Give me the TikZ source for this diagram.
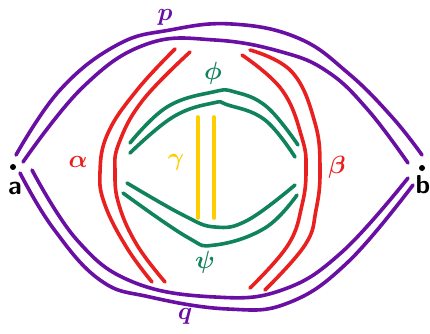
\documentclass[tikz,border=0pt]{standalone}
\usepackage{tikz}
\usepackage{bm}
\usetikzlibrary{calc}
\definecolor{grape}{HTML}{6A0FA3}
\definecolor{tomato}{HTML}{E8201F}
\definecolor{pine}{HTML}{10835A}
\definecolor{gold}{HTML}{FFCC00}
\tikzset{
  stroke/.style={line width=3.6pt,line cap=round,line join=round},
  lab/.style={font=\fontsize{26}{26}\selectfont,inner sep=0pt},
  pt/.style={circle,fill=black,minimum size=6pt,inner sep=0pt},
}
\begin{document}
\begin{tikzpicture}[x=1pt,y=-1pt,
  pp/.style={stroke,draw=grape},
  rr/.style={stroke,draw=tomato},
  gg/.style={stroke,draw=pine},
  yy/.style={stroke,draw=gold}]
  \useasboundingbox[fill=white] (0,0) rectangle (430,333);
  % end points
  \node[pt] (A) at (13,167) {};
  \node[pt] (B) at (422,168) {};
  \node[lab,font=\fontsize{26}{26}\sffamily\bfseries] (la) at (15,188) {a};
  \node[lab,font=\fontsize{26}{26}\sffamily\bfseries] (lb) at (423,185) {b};
  % p and q
  \draw[pp] plot[smooth,tension=.7] coordinates {(16,155) (60,90) (117,45) (170,30) (232,24) (298,38) (348,73) (392,117) (422,155)};
  \draw[pp] plot[smooth,tension=.7] coordinates {(23,162) (83,87) (147,44) (215,40) (282,52) (328,72) (368,110) (408,163)};
  \draw[pp] plot[smooth,tension=.7] coordinates {(20,173) (53,228) (100,280) (150,297) (228,309) (288,303) (348,262) (413,185)};
  \draw[pp] plot[smooth,tension=.7] coordinates {(32,170) (77,240) (133,282) (215,297) (282,290) (342,252) (408,178)};
  % alpha and beta
  \draw[rr] plot[smooth,tension=.7] coordinates {(175,49) (137,90) (108,133) (100,172) (105,205) (127,248) (152,282)};
  \draw[rr] plot[smooth,tension=.7] coordinates {(190,52) (143,100) (119,143) (115,172) (119,205) (137,245) (165,282)};
  \draw[rr] plot[smooth,tension=.7] coordinates {(242,55) (282,90) (302,138) (306,170) (302,205) (288,245) (250,288)};
  \draw[rr] plot[smooth,tension=.7] coordinates {(250,50) (292,72) (315,123) (320,170) (316,210) (305,245) (265,290)};
  % phi and psi
  \draw[gg] plot[smooth,tension=.7] coordinates {(130,143) (167,107) (213,92) (235,92) (267,107) (298,145)};
  \draw[gg] plot[smooth,tension=.7] coordinates {(130,153) (173,117) (213,103) (228,105) (265,120) (295,157)};
  \draw[gg] plot[smooth,tension=.7] coordinates {(127,183) (183,215) (215,227) (248,220) (295,185)};
  \draw[gg] plot[smooth,tension=.7] coordinates {(123,193) (187,237) (215,245) (265,228) (297,195)};
  % gamma
  \draw[yy] (198,117) -- (198,218);
  \draw[yy] (214,117) -- (214,218);
  % labels
  \node[lab,text=grape] (lp) at (165,17) {$\bm{p}$};
  \node[lab,text=grape] (lq) at (185,316) {$\bm{q}$};
  \node[lab,text=tomato,font=\fontsize{32}{32}\selectfont] (lal) at (78,162) {$\bm{\alpha}$};
  \node[lab,text=tomato] (lbe) at (337,167) {$\bm{\beta}$};
  \node[lab,text=pine] (lph) at (213,73) {$\bm{\phi}$};
  \node[lab,text=pine] (lps) at (205,262) {$\bm{\psi}$};
  \node[lab,text=gold] (lga) at (176,162) {$\bm{\gamma}$};
\end{tikzpicture}
\end{document}
